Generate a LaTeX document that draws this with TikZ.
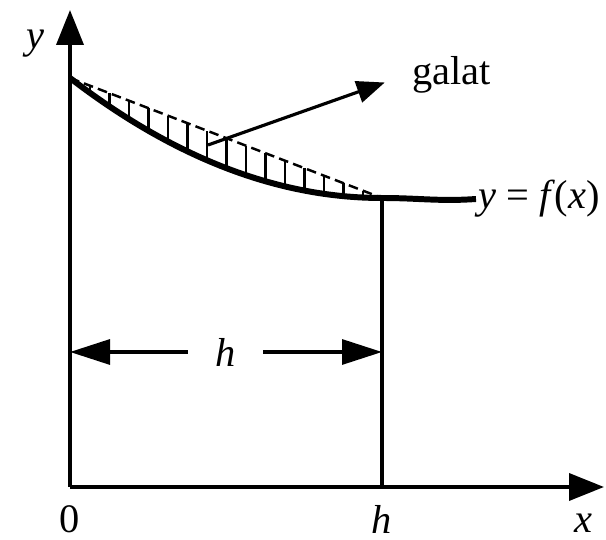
\documentclass[tikz,border=0pt]{standalone}
\usepackage{fontspec}
\setmainfont{Liberation Serif}
\usetikzlibrary{arrows.meta}
\begin{document}
\begin{tikzpicture}[font=\fontsize{23}{27}\selectfont,
  axis/.style={line width=2.1pt, -{Triangle[length=0.7cm, width=0.54cm]}},
  dim/.style={line width=1.8pt, -{Triangle[length=0.8cm, width=0.5cm]}},
  hatch/.style={line width=1.6pt},
  lab/.style={inner sep=0pt}]
  \useasboundingbox (-1.4,-1.06) rectangle (10.72,9.74);

  % axes
  \coordinate (O) at (0,0);
  \coordinate (ytip) at (0,9.54);
  \coordinate (xtip) at (10.68,0);
  \draw[axis] (O) -- (ytip);
  \draw[axis] (O) -- (xtip);
  \node[lab] (ylab) at (-0.7,8.86) {\textit{y}};
  \node[lab] (xlab) at (10.26,-0.72) {\textit{x}};
  \node[lab] (zero) at (0,-0.65) {0};
  \node[lab] (hlab) at (6.24,-0.65) {\textit{h}};

  % end points of the step
  \coordinate (A) at (0,8.18);
  \coordinate (B) at (6.24,5.78);
  \coordinate (hfoot) at (B |- O);
  \draw[line width=2.1pt] (B) -- (hfoot);

  % error area between chord and curve
  \foreach \k in {0,...,14} {
    \pgfmathsetmacro\xx{0.4+0.39*\k}
    \draw[hatch] (\xx,{5.78+0.06164*(\xx-6.24)*(\xx-6.24)}) -- (\xx,{8.18-0.3846*\xx});
  }
  \draw[line width=1.4pt, dash pattern=on 5.5pt off 3pt] (A) -- (B);

  % curve y = f(x)
  \node[anchor=west, inner sep=1pt] (fx) at (8.12,5.76) {\textit{y} = \textit{f}(\textit{x})};
  \draw[line width=3.4pt] (A) .. controls (2.08,6.58) and (4.16,5.78) .. (B)
    to[out=0, in=184] (fx.west);

  % label of the error
  \coordinate (err) at (2.76,6.84);
  \node[anchor=west] (galat) at (6.72,8.24) {galat};
  \draw[line width=1.8pt, -{Triangle[length=0.56cm, width=0.44cm]}, shorten >=0.45cm] (err) -- (galat.west);

  % width of the step
  \node[minimum width=1.5cm, inner sep=0pt] (hdim) at (3.11,2.7) {\textit{h}};
  \draw[dim] (hdim.west) -- (hdim.west -| O);
  \draw[dim] (hdim.east) -- (hdim.east -| B);
\end{tikzpicture}
\end{document}
